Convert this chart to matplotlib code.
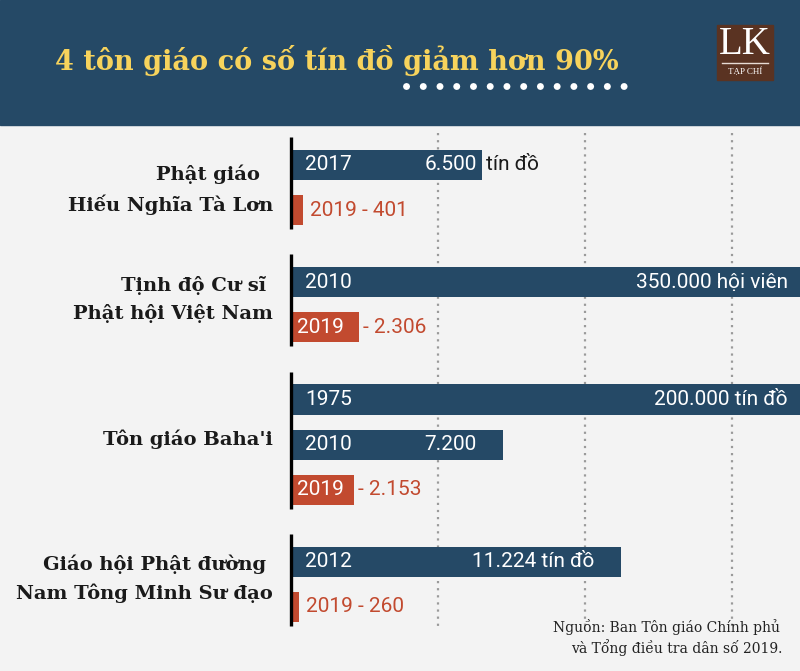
import matplotlib
matplotlib.use("Agg")
import matplotlib.pyplot as plt
from matplotlib.patches import Rectangle
from matplotlib.lines import Line2D

# data
groups = ["Phật giáo  \nHiếu Nghĩa Tà Lơn", "Tịnh độ Cư sĩ \nPhật hội Việt Nam",
          "Tôn giáo Baha'i", "Giáo hội Phật đường \nNam Tông Minh Sư đạo"]
years = [["2017", "2019"], ["2010", "2019"], ["1975", "2010", "2019"], ["2012", "2019"]]
values = [[6500, 401], [350000, 2306], [200000, 7200, 2153], [11224, 260]]
value_labels = [["6.500", "401"], ["350.000", "2.306"], ["200.000", "7.200", "2.153"], ["11.224", "260"]]
units = [["tín đồ", ""], ["hội viên", ""], ["tín đồ", "", ""], ["tín đồ", ""]]
grid_values = [5000, 10000, 15000]

title = "4 tôn giáo có số tín đồ giảm hơn 90%"
source = ["Nguồn: Ban Tôn giáo Chính phủ", "và Tổng điều tra dân số 2019."]

BLUE = "#254966"
RED = "#c24a2f"
BG = "#f3f3f3"
YELLOW = "#f7d35c"

W, H = 800, 671
fig = plt.figure(figsize=(W / 100, H / 100), dpi=100, facecolor=BG)

# header band
fig.patches.append(Rectangle((0, 1 - 125 / H), 1, 125 / H, transform=fig.transFigure,
                             color=BLUE, zorder=0))
fig.text(55 / W, 1 - 60 / H, title, color=YELLOW, fontsize=19.5, fontweight="bold",
         family="DejaVu Serif", ha="left", va="center")
fig.lines.append(Line2D([406 / W, 632 / W], [1 - 86 / H, 1 - 86 / H], transform=fig.transFigure,
                        color="white", lw=5, dash_capstyle="round",
                        linestyle=(0, (0.01, 2.4))))

# logo
fig.patches.append(Rectangle((717 / W, 1 - 80 / H), 56 / W, 55 / H, transform=fig.transFigure,
                             color="#5a3322", zorder=1))
fig.text(745 / W, 1 - 44 / H, "LK", color="white", fontsize=28, family="Liberation Serif",
         ha="center", va="center", zorder=2)
fig.lines.append(Line2D([722 / W, 768 / W], [1 - 63 / H, 1 - 63 / H], transform=fig.transFigure,
                        color="#e8dcd5", lw=1, zorder=2))
fig.text(745 / W, 1 - 72 / H, "TẠP CHÍ", color="white", fontsize=6.5, family="Liberation Serif",
         ha="center", va="center", zorder=2)

# main axes: x=0 at px 291, gridlines every 147 px
x0_px, grid_px = 291, 147
xmax = (W - x0_px) * grid_values[0] / grid_px
pitch_px, first_px, top_px = 45.1, 165, 125
ax = fig.add_axes([x0_px / W, 0, 1 - x0_px / W, (H - top_px) / H])
ax.set_xlim(0, xmax)
ax.set_ylim((H - first_px) / pitch_px, -(first_px - top_px) / pitch_px)
ax.axis("off")

ax.vlines(grid_values, (133 - first_px) / pitch_px, (630 - first_px) / pitch_px,
          colors="#9a9a9a", lw=1.6, linestyles=(0, (1, 2.2)), zorder=0)

num_font = dict(family="Roboto", fontsize=15)
pos = 0.0
gap = 0.6
for g, name in enumerate(groups):
    n = len(values[g])
    ys = [pos + i for i in range(n)]
    colors = [BLUE] * (n - 1) + [RED]
    ax.barh(ys, values[g], height=0.67, color=colors, zorder=2)
    ax.plot([0, 0], [ys[0] - 0.62, ys[-1] + 0.42], color="black", lw=2.4,
            clip_on=False, zorder=3, solid_capstyle="butt")
    center = (ys[0] + ys[-1]) / 2 - (0.12 if g else -0.05)
    ax.annotate(name, xy=(0, center), xytext=(-13, 0), textcoords="offset points",
                ha="right", va="center", fontsize=14, fontweight="bold",
                family="DejaVu Serif", color="#1a1a1a", linespacing=1.6,
                annotation_clip=False)

    for i in range(n):
        v = values[g][i]
        end = min(v, xmax)
        y = ys[i]
        if i < n - 1:
            ax.annotate(years[g][i], xy=(0, y), xytext=(10, 0), textcoords="offset points",
                        ha="left", va="center", color="white", **num_font)
            unit = units[g][i]
            if unit and v < 10000:
                ax.annotate(value_labels[g][i], xy=(end, y), xytext=(-4, 0),
                            textcoords="offset points", ha="right", va="center",
                            color="white", **num_font)
                ax.annotate(unit, xy=(end, y), xytext=(3, 0), textcoords="offset points",
                            ha="left", va="center", color="#1a1a1a", **num_font)
            else:
                label = (value_labels[g][i] + " " + unit).strip()
                pad = -9 if v > xmax else -19
                ax.annotate(label, xy=(end, y), xytext=(pad, 0), textcoords="offset points",
                            ha="right", va="center", color="white", **num_font)
        else:
            if v * grid_px / grid_values[0] > 55:
                ax.annotate(years[g][i], xy=(0, y), xytext=(4, 0), textcoords="offset points",
                            ha="left", va="center", color="white", **num_font)
                ax.annotate("- " + value_labels[g][i], xy=(end, y), xytext=(3, 0),
                            textcoords="offset points", ha="left", va="center",
                            color=RED, **num_font)
            else:
                ax.annotate(years[g][i] + " - " + value_labels[g][i], xy=(end, y),
                            xytext=(5, 0), textcoords="offset points", ha="left",
                            va="center", color=RED, **num_font)
    pos += n + gap

fig.text(780 / W, 1 - 627 / H, source[0], ha="right", va="center", fontsize=10,
         family="DejaVu Serif", color="#222222")
fig.text(782 / W, 1 - 648 / H, source[1], ha="right", va="center", fontsize=10,
         family="DejaVu Serif", color="#222222")

fig.savefig("out.png", dpi=100, facecolor=BG)
